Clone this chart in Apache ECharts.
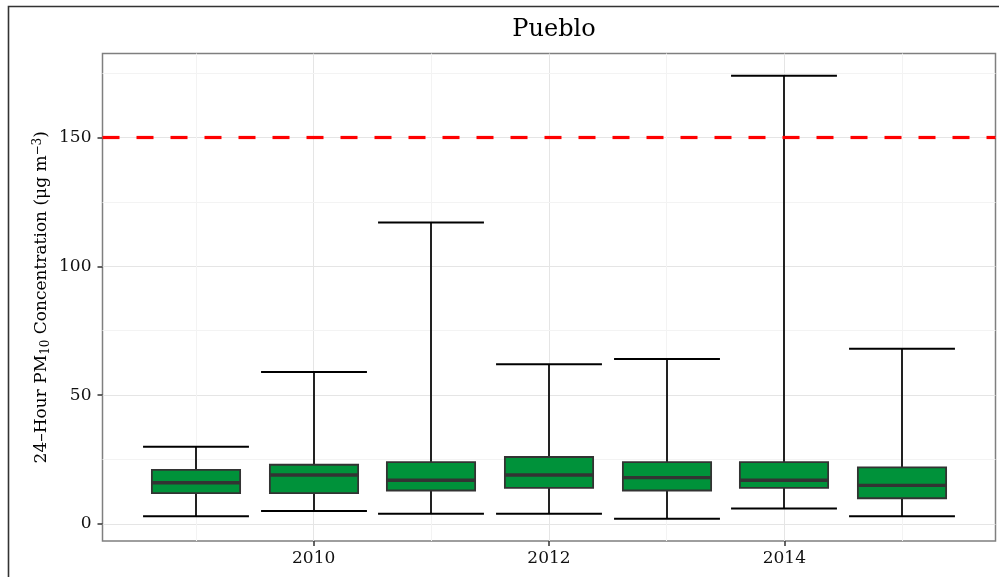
<!DOCTYPE html>
<html>
<head>
<meta charset="utf-8">
<script src="https://cdn.jsdelivr.net/npm/echarts@6/dist/echarts.min.js"></script>
<style>
  html, body { margin: 0; padding: 0; background: #fff; }
  #main { width: 999px; height: 577px; }
</style>
</head>
<body>
<div id="main"></div>
<script>
// yearly PM10 summaries
var years   = [2009, 2010, 2011, 2012, 2013, 2014, 2015];
var mins    = [3, 5, 4, 4, 2, 6, 3];
var q1s     = [12, 12, 13, 14, 13, 14, 10];
var medians = [16, 19, 17, 19, 18, 17, 15];
var q3s     = [21, 23, 24, 26, 24, 24, 22];
var maxs    = [30, 59, 117, 62, 64, 174, 68];

var standard = 150;
var xTicks = [2010, 2012, 2014];
var xMinor = [2009, 2011, 2013, 2015];
var yTicks = [0, 50, 100, 150];
var yMinor = [25, 75, 125, 175];

var FONT = 'DejaVu Serif';

var boxData = years.map(function (y, i) {
    return [y, mins[i], q1s[i], medians[i], q3s[i], maxs[i]];
});

function renderBox(params, api) {
    var x = api.value(0);
    var pMin = api.coord([x, api.value(1)]);
    var pQ1 = api.coord([x, api.value(2)]);
    var pMed = api.coord([x, api.value(3)]);
    var pQ3 = api.coord([x, api.value(4)]);
    var pMax = api.coord([x, api.value(5)]);
    var boxW = api.size([0.75, 0])[0];
    var capW = api.size([0.9, 0])[0];
    // snap so the 2px whisker stays crisp
    var cx = Math.round(pMed[0]);
    return {
        type: 'group',
        children: [
            { type: 'line', shape: { x1: cx, y1: pMin[1], x2: cx, y2: pMax[1] },
              style: { stroke: '#222', lineWidth: 2 } },
            { type: 'line', shape: { x1: cx - capW / 2, y1: pMax[1], x2: cx + capW / 2, y2: pMax[1] },
              style: { stroke: '#000', lineWidth: 2 } },
            { type: 'line', shape: { x1: cx - capW / 2, y1: pMin[1], x2: cx + capW / 2, y2: pMin[1] },
              style: { stroke: '#000', lineWidth: 2 } },
            { type: 'rect', shape: { x: cx - boxW / 2, y: pQ3[1], width: boxW, height: pQ1[1] - pQ3[1] },
              style: { fill: '#00923a', stroke: '#333', lineWidth: 1.8 } },
            { type: 'line', shape: { x1: cx - boxW / 2, y1: pMed[1], x2: cx + boxW / 2, y2: pMed[1] },
              style: { stroke: '#333', lineWidth: 3.4 } }
        ]
    };
}

var chart = echarts.init(document.getElementById('main'));

var option = {
    animation: false,
    backgroundColor: '#fff',
    title: {
        text: 'Pueblo',
        left: 549,
        top: 13,
        textAlign: 'center',
        textStyle: { fontFamily: FONT, fontSize: 24, fontWeight: 'normal', color: '#000' }
    },
    graphic: [{
        type: 'rect',
        shape: { x: 8.5, y: 6.5, width: 1000, height: 600 },
        style: { fill: 'none', stroke: '#333', lineWidth: 1.6 },
        silent: true
    }],
    grid: {
        left: 102.5, right: 3.5, top: 53.5, bottom: 36,
        show: true, borderColor: '#7f7f7f', borderWidth: 1.5,
        backgroundColor: '#fff',
        outerBoundsMode: 'none'
    },
    xAxis: {
        type: 'value',
        min: 2008.205,
        max: 2015.795,
        axisLine: { show: false, onZero: false },
        axisTick: { show: true, customValues: xTicks, length: 5, lineStyle: { color: '#333', width: 1.5 } },
        axisLabel: {
            customValues: xTicks, margin: 9, color: '#111',
            fontFamily: FONT, fontSize: 17,
            formatter: function (v) { return String(v); }
        },
        splitLine: { show: true, lineStyle: { color: '#e5e5e5', width: 1 } }
    },
    yAxis: {
        type: 'value',
        min: -6.6,
        max: 182.6,
        name: '{a|24–Hour PM}{sub|10}{a| Concentration (μg m}{sup|−3}{a|)}',
        nameLocation: 'middle',
        nameRotate: 90,
        nameGap: 51,
        nameMoveOverlap: false,
        nameTextStyle: {
            color: '#000',
            rich: {
                a: { fontFamily: FONT, fontSize: 17, lineHeight: 20, verticalAlign: 'middle', color: '#000' },
                sub: { fontFamily: FONT, fontSize: 12, lineHeight: 20, verticalAlign: 'bottom', color: '#000' },
                sup: { fontFamily: FONT, fontSize: 12, lineHeight: 20, verticalAlign: 'top', color: '#000' }
            }
        },
        axisLine: { show: false, onZero: false },
        axisTick: { show: true, customValues: yTicks, length: 5, lineStyle: { color: '#333', width: 1.5 } },
        axisLabel: {
            customValues: yTicks, margin: 11, color: '#111',
            fontFamily: FONT, fontSize: 17
        },
        splitLine: { show: true, lineStyle: { color: '#e5e5e5', width: 1 } }
    },
    series: [
        {
            // minor grid lines, kept under the boxes
            type: 'line',
            data: [],
            z: 1,
            silent: true,
            markLine: {
                z: 1,
                silent: true,
                symbol: 'none',
                label: { show: false },
                lineStyle: { color: '#f3f3f3', width: 1, type: 'solid' },
                data: xMinor.map(function (v) { return { xAxis: v }; })
                    .concat(yMinor.map(function (v) { return { yAxis: v }; }))
            }
        },
        {
            type: 'custom',
            z: 3,
            renderItem: renderBox,
            encode: { x: 0, y: [1, 2, 3, 4, 5] },
            data: boxData
        },
        {
            type: 'line',
            data: [],
            z: 5,
            silent: true,
            markLine: {
                z: 6,
                silent: true,
                symbol: 'none',
                label: { show: false },
                lineStyle: { color: '#ff0000', width: 3.2, type: [17, 17] },
                data: [{ yAxis: standard }]
            }
        }
    ]
};

if (option && typeof option === 'object') {
    chart.setOption(option, true);
}

window.onresize = function () {
    chart.resize();
};
</script>
</body>
</html>
